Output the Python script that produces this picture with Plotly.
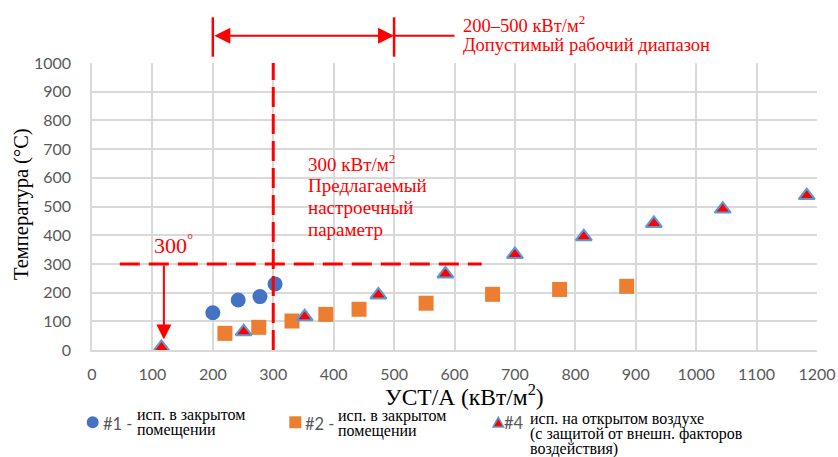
import plotly.graph_objects as go

# ---- data ----
s1_name = "#1"
s1_x = [200, 242, 278, 303]
s1_y = [130, 174, 186, 230]

s2_name = "#2"
s2_x = [220, 276, 331, 387, 442, 553, 663, 774, 885]
s2_y = [58, 79, 101, 124, 142, 163, 194, 211, 222]

s4_name = "#4"
s4_x = [115, 251, 352, 474, 585, 700, 814, 930, 1044, 1183]
s4_y = [9, 64, 116, 192, 265, 333, 395, 441, 491, 538]

x_ticks = list(range(0, 1201, 100))
y_ticks = list(range(0, 1001, 100))

setpoint_x = 300
setpoint_y = 300
range_lo, range_hi = 200, 500

# ---- layout geometry ----
W, H = 838, 457
ML, MR, MT, MB = 92, 21, 63, 107
PW = W - ML - MR
PH = H - MT - MB


def px(xp):
    return (xp - ML) / PW


def py(yp):
    return (H - MB - yp) / PH


RED = "#FF0000"
SERIF = "Liberation Serif, Times New Roman, serif"
SANS = "Lato, Open Sans, sans-serif"
GRID = "#D9D9D9"

fig = go.Figure()

fig.add_trace(go.Scatter(
    x=s1_x, y=s1_y, mode="markers", name=s1_name, cliponaxis=False,
    marker=dict(symbol="circle", size=15, color="#4472C4", line=dict(width=0)),
))
fig.add_trace(go.Scatter(
    x=s2_x, y=s2_y, mode="markers", name=s2_name, cliponaxis=False,
    marker=dict(symbol="square", size=15, color="#ED7D31", line=dict(width=0)),
))
fig.add_trace(go.Scatter(
    x=s4_x, y=s4_y, mode="markers", name=s4_name, cliponaxis=False,
    marker=dict(symbol="triangle-up", size=14, color=RED,
                line=dict(width=2, color="#5B9BD5")),
))

shapes = [
    dict(type="line", xref="x", yref="y", x0=setpoint_x, x1=setpoint_x, y0=0, y1=1000,
         line=dict(color=RED, width=3, dash="20px,7px"), layer="above"),
    dict(type="line", xref="x", yref="y", x0=46, x1=645, y0=setpoint_y, y1=setpoint_y,
         line=dict(color=RED, width=3, dash="20px,9px"), layer="above"),
    dict(type="line", xref="x", yref="paper", x0=range_lo, x1=range_lo, y0=py(56.7), y1=py(17.3),
         line=dict(color=RED, width=2.5)),
    dict(type="line", xref="x", yref="paper", x0=range_hi, x1=range_hi, y0=py(56.7), y1=py(17.3),
         line=dict(color=RED, width=2.5)),
    dict(type="line", xref="x", yref="paper", x0=range_hi, x1=600, y0=py(35.7), y1=py(35.7),
         line=dict(color=RED, width=2)),
]

annotations = [
    dict(x=range_hi, y=py(35.7), xref="x", yref="paper", ax=range_lo, ay=0,
         axref="x", ayref="pixel", text="", showarrow=True, arrowside="end+start",
         arrowhead=2, startarrowhead=2, arrowsize=1.6, startarrowsize=1.6,
         arrowwidth=2, arrowcolor=RED),
    dict(x=119, y=37, xref="x", yref="y", ax=119, ay=setpoint_y, axref="x", ayref="y",
         text="", showarrow=True, arrowhead=2, arrowsize=1.5, arrowwidth=2, arrowcolor=RED),
]


def txt(text, xp, yp, size, color=RED, family=SERIF, xanchor="left", angle=0):
    annotations.append(dict(
        text=text, x=px(xp), y=py(yp), xref="paper", yref="paper",
        xanchor=xanchor, yanchor="middle", showarrow=False, textangle=angle,
        font=dict(family=family, size=size, color=color), borderpad=0,
    ))


txt("200–500 кВт/м<sup>2</sup>", 462, 24, 18.5)
txt("Допустимый рабочий диапазон", 462, 45, 18.5)

txt("300 кВт/м<sup>2</sup>", 307, 163, 19)
txt("Предлагаемый", 307, 185.5, 19)
txt("настроечный", 307, 207.5, 19)
txt("параметр", 307, 229, 19)

txt("300<sup>°</sup>", 153, 244, 22)

# axis titles
txt("Температура (°C)", 21, 204, 20.5, color="#000000", xanchor="center", angle=-90)
txt("УСТ/А (кВт/м<sup>2</sup>)", 464, 395, 23.5, color="#000000", xanchor="center")

# custom legend
shapes.append(dict(type="circle", xref="paper", yref="paper",
                   x0=px(86.7), x1=px(98.7), y0=py(428.3), y1=py(416.3),
                   fillcolor="#4472C4", line=dict(width=0)))
shapes.append(dict(type="rect", xref="paper", yref="paper",
                   x0=px(289.3), x1=px(301.3), y0=py(428.3), y1=py(416.3),
                   fillcolor="#ED7D31", line=dict(width=0)))
tri = "M {:.5f},{:.5f} L {:.5f},{:.5f} L {:.5f},{:.5f} Z".format(
    px(498.3), py(417.3), px(503.6), py(427.0), px(493.0), py(427.0))
shapes.append(dict(type="path", xref="paper", yref="paper", path=tri,
                   fillcolor=RED, line=dict(width=1.5, color="#5B9BD5")))

LG = "#595959"
txt("#1 -", 102, 424, 16.5, color=LG, family=SANS)
txt("исп. в закрытом", 136, 414.5, 16, color="#000000")
txt("помещении", 136, 429.5, 16, color="#000000")

txt("#2 -", 304, 424, 16.5, color=LG, family=SANS)
txt("исп. в закрытом", 337, 415.5, 16, color="#000000")
txt("помещении", 337, 430.5, 16, color="#000000")

txt("#4", 503, 423, 16.5, color=LG, family=SANS)
txt("исп. на открытом воздухе", 529, 419, 16, color="#000000")
txt("(с защитой от внешн. факторов", 529, 434, 16, color="#000000")
txt("воздействия)", 529, 449, 16, color="#000000")

fig.update_layout(
    width=W, height=H,
    margin=dict(l=ML, r=MR, t=MT, b=MB, pad=0, autoexpand=False),
    paper_bgcolor="white", plot_bgcolor="white",
    showlegend=False,
    shapes=shapes, annotations=annotations,
    xaxis=dict(range=[0, 1200], tickvals=x_ticks, ticktext=[str(v) for v in x_ticks],
               showgrid=True, gridcolor=GRID, gridwidth=1.5, zeroline=False,
               showline=True, linecolor=GRID, linewidth=1.5, ticks="",
               ticklabelstandoff=9, automargin=False,
               tickfont=dict(family=SANS, size=16, color=LG)),
    yaxis=dict(range=[0, 1000], tickvals=y_ticks, ticktext=[str(v) for v in y_ticks],
               showgrid=True, gridcolor=GRID, gridwidth=1.5, zeroline=False,
               showline=True, linecolor=GRID, linewidth=1.5, ticks="",
               ticklabelstandoff=16, automargin=False,
               tickfont=dict(family=SANS, size=16, color=LG)),
)

fig.write_html(
    "out.html",
    config={"displayModeBar": False},
    post_script="document.body.style.margin='0';document.body.style.overflow='hidden';",
)
